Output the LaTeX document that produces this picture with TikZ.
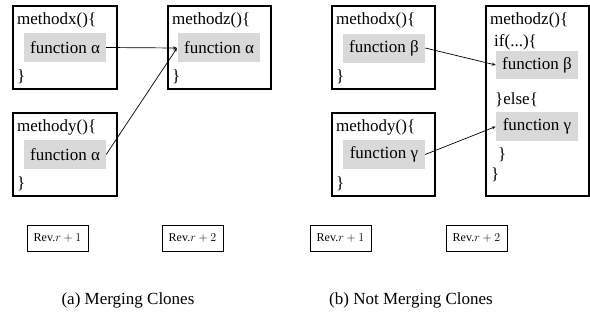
\documentclass[tikz,border=0pt]{standalone}
\usepackage{fontspec}
\setmainfont{Liberation Serif}
\usetikzlibrary{arrows.meta}
\begin{document}
\begin{tikzpicture}[x=1pt,y=-1pt,
  outer/.style={draw,line width=1.3pt,inner sep=0pt},
  graybox/.style={fill=black!15,inner sep=0pt,font=\fontsize{17}{20}\selectfont},
  code/.style={anchor=west,inner sep=0pt,font=\fontsize{17}{20}\selectfont},
  revbox/.style={draw,line width=1pt,minimum width=61pt,minimum height=26pt,inner sep=0pt,font=\fontsize{12}{14}\selectfont},
  captext/.style={font=\fontsize{17}{20}\selectfont},
  conn/.style={line width=0.7pt,-{Stealth[length=4pt,width=3pt]}}]
\useasboundingbox (0,0) rectangle (590,322);
% ---------- panel (a)
\node[outer,minimum width=104pt,minimum height=83pt] (ax) at (65,47.5) {};
\node[code] (axt) at (17,20) {methodx()\{};
\node[graybox,minimum width=82pt,minimum height=29pt] (axf) at (65,47.5) {function α};
\node[code] (axe) at (17,77) {\}};
\node[outer,minimum width=104pt,minimum height=83pt] (ay) at (65,154.5) {};
\node[code] (ayt) at (17,127) {methody()\{};
\node[graybox,minimum width=82pt,minimum height=29pt] (ayf) at (65,154.5) {function α};
\node[code] (aye) at (17,184) {\}};
\node[outer,minimum width=103pt,minimum height=83pt] (az) at (219.5,47.5) {};
\node[code] (azt) at (172,20) {methodz()\{};
\node[graybox,minimum width=82pt,minimum height=29pt] (azf) at (219,47.5) {function α};
\node[code] (aze) at (172,77) {\}};
\coordinate (azin) at (177,48);
\draw[conn] (axf.east) -- (azin);
\draw[conn] (ayf.east) -- (azin);
% ---------- panel (b)
\node[outer,minimum width=103pt,minimum height=83pt] (bx) at (383.5,47.5) {};
\node[code] (bxt) at (336,20) {methodx()\{};
\node[graybox,minimum width=82pt,minimum height=29pt] (bxf) at (384,48) {function β};
\node[code] (bxe) at (336,77) {\}};
\node[outer,minimum width=103pt,minimum height=83pt] (by) at (383.5,154.5) {};
\node[code] (byt) at (336,127) {methody()\{};
\node[graybox,minimum width=82pt,minimum height=29pt] (byf) at (384,154.5) {function γ};
\node[code] (bye) at (336,184) {\}};
\node[outer,minimum width=103pt,minimum height=190pt] (bz) at (537.5,101) {};
\node[code] (bzt) at (490,20) {methodz()\{};
\node[code] (bzif) at (494,42) {if(...)\{};
\node[graybox,minimum width=82pt,minimum height=28pt] (bzb) at (537,65) {function β};
\node[code] (bzel) at (495,100) {\}else\{};
\node[graybox,minimum width=82pt,minimum height=29pt] (bzg) at (537,126.5) {function γ};
\node[code] (bzc1) at (498,155) {\}};
\node[code] (bzc2) at (491,175) {\}};
\draw[conn] (bxf.east) -- (bzb.west);
\draw[conn] (byf.east) -- (bzg.west);
% ---------- revisions
\node[revbox] (r1) at (57.5,238) {Rev.$r+1$};
\node[revbox] (r2) at (192.5,238) {Rev.$r+2$};
\node[revbox] (r3) at (340.5,238) {Rev.$r+1$};
\node[revbox] (r4) at (476.5,238) {Rev.$r+2$};
% ---------- captions
\node[captext] (ca) at (128,300) {(a) Merging Clones};
\node[captext] (cb) at (411,300) {(b) Not Merging Clones};
\end{tikzpicture}
\end{document}
